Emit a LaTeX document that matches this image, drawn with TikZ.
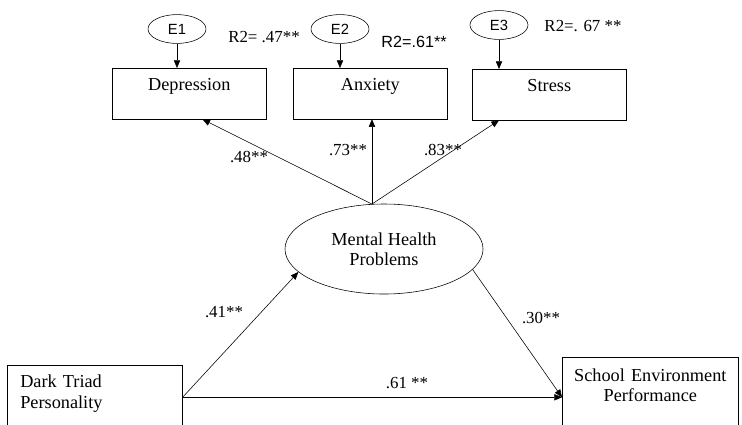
\documentclass[tikz,border=0pt]{standalone}
\usepackage{fontspec}
\setmainfont{Liberation Serif}
\newfontfamily\arialfont{Liberation Sans}
\usetikzlibrary{arrows.meta,positioning,shapes.geometric}

\tikzset{
  err/.style={ellipse, draw, minimum width=1.45cm, minimum height=0.72cm, inner sep=0pt,
    font=\arialfont\fontsize{10.5}{12}\selectfont},
  obs/.style={draw, anchor=north west, minimum width=3.85cm, inner sep=0pt,
    text height=15.5pt, text depth=20.5pt},
  coef/.style={font=\fontsize{12}{14}\selectfont, inner sep=0pt},
}

\begin{document}
\begin{tikzpicture}[x=0.025cm, y=-0.025cm, >={Triangle[length=5.5pt,width=4.5pt]},
    font=\fontsize{13}{14.5}\selectfont]
  \useasboundingbox (0,0) rectangle (742,424);
  % indicators and their error terms
  \node[obs] (dep) at (112,68) {Depression};
  \node[obs] (anx) at (293,68) {Anxiety};
  \node[obs] (str) at (472,69) {Stress};
  \node[err] (e1) at (177,29) {E1};
  \node[err] (e2) at (340,29) {E2};
  \node[err] (e3) at (499,25) {E3};
  \draw[->] (e1.south) -- (e1.south |- dep.north);
  \draw[->] (e2.south) -- (e2.south |- anx.north);
  \draw[->] (e3.south) -- (e3.south |- str.north);
  \node[coef] (r1) at (264,37) {R2= .47**};
  \node[coef, font=\arialfont\fontsize{11.5}{13}\selectfont] (r2) at (414,42) {R2=.61**};
  \node[coef] (r3) at (583,26) {R2=. 67 **};
  % latent variable
  \node[ellipse, draw, minimum width=4.95cm, minimum height=2.25cm, inner sep=0pt,
    align=center] (mhp) at (384,249) {Mental Health\\Problems};
  \draw[->] (mhp.105) -- (dep.-63);
  \draw[->] (mhp.105) -- (mhp.105 |- anx.south);
  \draw[->] (mhp.105) -- (str.-153);
  \node[coef] (l1) at (249,157) {.48**};
  \node[coef] (l2) at (348,150) {.73**};
  \node[coef] (l3) at (443,150) {.83**};
  % predictor and outcome
  \node[draw, anchor=north west, text width=3.725cm, align=left, inner xsep=0.325cm,
    inner ysep=0pt, text height=16pt, text depth=29.5pt] (dt) at (7,365)
    {Dark Triad\\Personality};
  \node[draw, anchor=north west, text width=4.4cm, align=center, inner xsep=0pt,
    inner ysep=0pt, text height=17pt, text depth=40pt] (sep) at (562,357)
    {School Environment\\Performance};
  \draw[->] (dt.east) -- (mhp.195);
  \draw[->] (dt.east) -- (dt.east -| sep.west);
  \draw[->] (mhp.347) -- (dt.east -| sep.west);
  \node[coef] (l4) at (224,312) {.41**};
  \node[coef] (l5) at (407,383) {.61 **};
  \node[coef] (l6) at (541,318) {.30**};
\end{tikzpicture}
\end{document}
